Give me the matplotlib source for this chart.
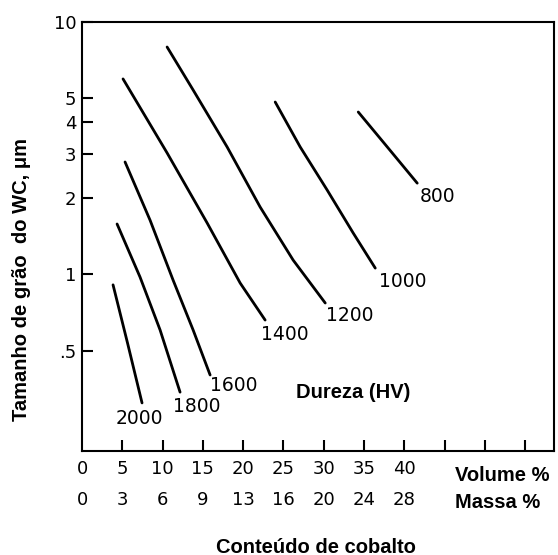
import matplotlib.pyplot as plt
from matplotlib.ticker import NullLocator
from matplotlib.transforms import blended_transform_factory

# Curvas de dureza Vickers: conteúdo de cobalto (vol %) x tamanho de grão do WC (µm)
dureza = ['2000', '1800', '1600', '1400', '1200', '1000', '800']

cobalto_vol = [
    [3.85, 5.65, 7.45],
    [4.35, 7.20, 9.69, 12.17],
    [5.34, 8.45, 11.30, 13.79, 15.90],
    [5.09, 10.56, 15.53, 19.63, 22.73],
    [10.56, 13.79, 18.01, 22.11, 26.21, 30.19],
    [23.98, 27.08, 30.43, 33.66, 36.40],
    [34.29, 37.89, 41.61],
]
grao_wc = [
    [0.91, 0.535, 0.31],
    [1.585, 0.977, 0.603, 0.342],
    [2.79, 1.64, 0.951, 0.603, 0.40],
    [5.95, 3.03, 1.60, 0.925, 0.66],
    [7.96, 5.38, 3.20, 1.85, 1.14, 0.771],
    [4.82, 3.20, 2.16, 1.46, 1.06],
    [4.40, 3.20, 2.30],
]

# posição dos rótulos das curvas
rotulo_x = [7.1, 14.2, 18.8, 25.2, 33.2, 39.8, 44.1]
rotulo_y = [0.270, 0.299, 0.362, 0.576, 0.69, 0.934, 2.03]

# eixos
volume_ticks = [0, 5, 10, 15, 20, 25, 30, 35, 40]
massa_labels = ['0', '3', '6', '9', '13', '16', '20', '24', '28']
x_ticks = [5, 10, 15, 20, 25, 30, 35, 40, 45, 50, 55]
y_ticks = [0.5, 1, 2, 3, 4, 5, 10]
y_labels = ['.5', '1', '2', '3', '4', '5', '10']

bold = dict(family='Liberation Sans', fontweight='bold', fontsize=14.5)

fig = plt.figure(figsize=(5.58, 5.55), dpi=100)
ax = fig.add_axes([0.147, 0.1874, 0.846, 0.773])

for xs, ys, lab, lx, ly in zip(cobalto_vol, grao_wc, dureza, rotulo_x, rotulo_y):
    ax.plot(xs, ys, color='black', lw=2, solid_capstyle='round', solid_joinstyle='round')
    ax.text(lx, ly, lab, ha='center', va='center', fontsize=13.5)

ax.text(33.7, 0.34, 'Dureza (HV)', ha='center', va='center', **bold)

ax.set_yscale('log')
ax.set_xlim(0, 58.6)
ax.set_ylim(0.2, 10)
ax.yaxis.set_minor_locator(NullLocator())
ax.set_yticks(y_ticks)
ax.set_yticklabels(y_labels)
ax.set_xticks(x_ticks)
ax.set_xticklabels([])
ax.tick_params(axis='both', direction='in', length=8, width=1.5, labelsize=13)
ax.tick_params(axis='y', pad=4)
for s in ax.spines.values():
    s.set_linewidth(1.5)

# duas linhas de rótulos no eixo x (volume % e massa %)
trans = blended_transform_factory(ax.transData, ax.transAxes)
for v, m in zip(volume_ticks, massa_labels):
    ax.text(v, -0.042, str(v), transform=trans, ha='center', va='center', fontsize=13)
    ax.text(v, -0.114, m, transform=trans, ha='center', va='center', fontsize=13)
ax.text(0.79, -0.058, 'Volume %', transform=ax.transAxes, ha='left', va='center', **bold)
ax.text(0.79, -0.119, 'Massa %', transform=ax.transAxes, ha='left', va='center', **bold)

fig.text(0.566, 0.0144, 'Conteúdo de cobalto', ha='center', va='center', **bold)
fig.text(0.038, 0.4955, 'Tamanho de grão  do WC, μm', ha='center', va='center', rotation=90, **bold)

fig.savefig('out.png', dpi=100)
